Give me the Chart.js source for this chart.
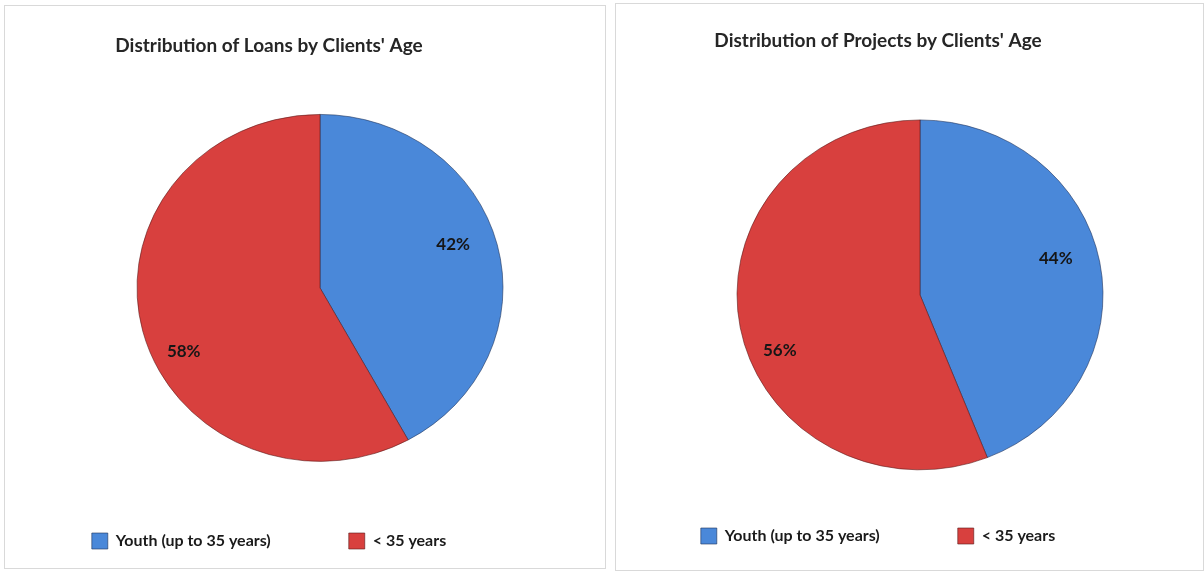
<!DOCTYPE html>
<html>
<head>
<meta charset="utf-8">
<script src="https://cdn.jsdelivr.net/npm/chart.js@4.4.1/dist/chart.umd.min.js"></script>
<style>
  body { margin: 0; background: #fff; width: 1204px; height: 572px; overflow: hidden; position: relative; }
  .painel { position: absolute; border: 1px solid #d9d9d9; background: #fff; }
  #painel1 { left: 4px; top: 5px; width: 600px; height: 562px; }
  #painel2 { left: 615px; top: 3px; width: 587px; height: 566px; }
  canvas { display: block; }
</style>
</head>
<body>
<div class="painel" id="painel1"><canvas id="graficoEmprestimos" width="600" height="562"></canvas></div>
<div class="painel" id="painel2"><canvas id="graficoProjetos" width="587" height="566"></canvas></div>
<script>
var categorias = ['Youth (up to 35 years)', '< 35 years'];
var emprestimos = [42, 58];
var projetos = [44, 56];

var cores = ['#4a88d9', '#d8403e'];
var bordas = ['rgba(30,50,90,0.6)', 'rgba(90,25,25,0.6)'];

// empurra a area da pizza para a direita sem mexer no titulo e na legenda
var deslocarPizza = {
    id: 'deslocarPizza',
    afterLayout: function(chart, args, opts) {
        var dx = opts.dx || 0;
        chart.chartArea.left += dx;
        chart.chartArea.right += dx;
    }
};

// achata a pizza na vertical (efeito de perspectiva)
var achatar = {
    id: 'achatar',
    beforeDatasetsDraw: function(chart, args, opts) {
        var a = chart.chartArea;
        var cy = (a.top + a.bottom) / 2;
        var ctx = chart.ctx;
        ctx.save();
        ctx.translate(0, cy);
        ctx.scale(1, opts.k || 1);
        ctx.translate(0, -cy);
    },
    afterDatasetsDraw: function(chart) {
        chart.ctx.restore();
    }
};

// porcentagens dentro de cada fatia
var rotulos = {
    id: 'rotulos',
    afterDatasetsDraw: function(chart, args, opts) {
        var ctx = chart.ctx;
        var meta = chart.getDatasetMeta(0);
        var dados = chart.data.datasets[0].data;
        var total = dados.reduce(function(a, b) { return a + b; }, 0);
        var k = chart.options.plugins.achatar.k || 1;
        ctx.save();
        ctx.font = 'bold 17px Lato';
        ctx.fillStyle = '#161616';
        ctx.textAlign = 'center';
        ctx.textBaseline = 'middle';
        meta.data.forEach(function(arc, i) {
            var p = arc.getProps(['x', 'y', 'startAngle', 'endAngle', 'outerRadius']);
            var meio = (p.startAngle + p.endAngle) / 2 + opts.giro[i] * Math.PI / 180;
            var r = p.outerRadius * opts.fracao[i];
            ctx.fillText(Math.round(dados[i] / total * 100) + '%',
                p.x + Math.cos(meio) * r, p.y + Math.sin(meio) * r * k);
        });
        ctx.restore();
    }
};

function criarPizza(canvas, titulo, valores, cfg) {
    return new Chart(canvas, {
        type: 'pie',
        data: {
            labels: categorias,
            datasets: [{
                data: valores,
                backgroundColor: cores,
                borderColor: bordas,
                borderWidth: 1,
                radius: cfg.raio,
                clip: false
            }]
        },
        options: {
            responsive: false,
            animation: false,
            layout: { padding: { right: cfg.direita, bottom: cfg.baixo } },
            plugins: {
                title: {
                    display: true,
                    text: titulo,
                    color: '#262626',
                    font: { family: 'Lato', size: 19, weight: 'bold' },
                    padding: { top: cfg.tituloTopo, bottom: cfg.tituloBaixo }
                },
                legend: {
                    position: 'bottom',
                    labels: {
                        boxWidth: 16,
                        boxHeight: 16,
                        padding: 78,
                        color: '#1a1a1a',
                        font: { family: 'Lato', size: 16, weight: 'bold' }
                    }
                },
                tooltip: { enabled: false },
                deslocarPizza: { dx: cfg.dx },
                achatar: { k: cfg.k },
                rotulos: { giro: [-4.7, -11.8], fracao: [0.77, 0.83] }
            }
        },
        plugins: [deslocarPizza, achatar, rotulos]
    });
}

criarPizza(graficoEmprestimos, "Distribution of Loans by Clients' Age", emprestimos,
    { raio: 183, k: 0.948, direita: 72, baixo: 9, tituloTopo: 28, tituloBaixo: 64, dx: 51 });

criarPizza(graficoProjetos, "Distribution of Projects by Clients' Age", projetos,
    { raio: 183, k: 0.956, direita: 63, baixo: 16, tituloTopo: 25, tituloBaixo: 88, dx: 42 });
</script>
</body>
</html>
